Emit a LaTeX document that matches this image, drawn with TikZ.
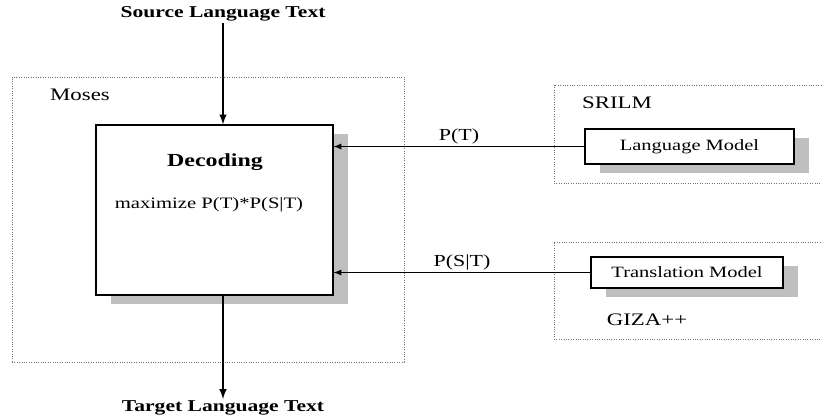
\documentclass[tikz,border=0pt]{standalone}
\usepackage{fontspec}
\setmainfont{Liberation Serif}[FakeStretch=1.3]
\usetikzlibrary{shadows}

\begin{document}
\begin{tikzpicture}[
  heading/.style={font=\fontsize{11.8}{14}\selectfont\bfseries, inner sep=1pt},
  grp/.style={draw=black!55, densely dotted, line width=0.7pt},
  grptag/.style={font=\fontsize{12.5}{15}\selectfont, inner sep=1pt},
  module/.style={draw, fill=white, line width=0.8pt,
                 drop shadow={shadow xshift=0.375cm, shadow yshift=-0.225cm,
                              fill=black!25, opacity=1}},
  model/.style={module, font=\fontsize{11.2}{13}\selectfont},
  arrow/.style={->, >=latex, line width=1.4pt},
  feed/.style={->, >=latex, line width=0.9pt},
  prob/.style={font=\fontsize{12}{14}\selectfont, inner sep=1.5pt},
]
\useasboundingbox (0,0) rectangle (20.55,10.45);

% Tool groups
\node[grp, minimum width=9.8cm, minimum height=7.125cm] (moses) at (5.2, 4.9625) {};
\node[grp, minimum width=6.9cm, minimum height=2.45cm] (srilm) at (17.3, 7.1) {};
\node[grp, minimum width=6.9cm, minimum height=2.425cm] (giza) at (17.3, 3.1875) {};
\node[grptag] (mosestag) at (2.0, 8.075) {Moses};
\node[grptag] (srilmtag) at (15.425, 7.875) {SRILM};
\node[grptag] (gizatag) at (16.175, 2.45) {GIZA++};

% Decoder
\node[module, minimum width=5.925cm, minimum height=4.25cm] (dec) at (5.3625, 5.2) {};
\node[font=\fontsize{13.1}{15}\selectfont\bfseries] (decname) at (5.375, 6.4) {Decoding};
\node[font=\fontsize{11.3}{13}\selectfont] (decgoal) at (5.225, 5.325) {maximize P(T)*P(S|T)};

% Input and output
\node[heading] (src) at (5.575, 10.1) {Source Language Text};
\node[heading] (tgt) at (5.575, 0.25) {Target Language Text};
\draw[arrow] (src) -- (src |- dec.north);
\draw[arrow] (tgt |- dec.south) -- (tgt);

% Models
\node[model, minimum width=5.225cm, minimum height=0.875cm] (lm) at (17.2375, 6.7875) {Language Model};
\node[model, minimum width=4.8cm, minimum height=0.775cm] (tm) at (17.175, 3.6375) {Translation Model};
\draw[feed] (lm.west) -- (lm.west -| dec.east) node[prob, midway, above] {P(T)};
\draw[feed] (tm.west) -- (tm.west -| dec.east) node[prob, midway, above] {P(S|T)};

\end{tikzpicture}
\end{document}
